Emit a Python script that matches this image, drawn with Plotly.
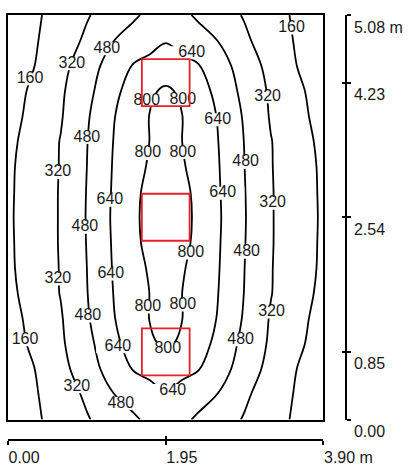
import plotly.graph_objects as go

# ---- data ----
room_w = 3.90
room_l = 5.08

# grid positions (m)
x_m = [0, 0.325, 0.65, 0.975, 1.3, 1.55, 1.75, 1.95, 2.15, 2.35, 2.6, 2.925, 3.25, 3.575, 3.9]
y_m = [0, 0.3175, 0.635, 0.9525, 1.27, 1.5875, 1.905, 2.2225, 2.54,
       2.8575, 3.175, 3.4925, 3.81, 4.1275, 4.445, 4.7625, 5.08]

# estimated illuminance (lux) at the grid points, rows from y=0 upward
lux = [
    [55, 135, 220, 308, 393, 459, 510, 560, 510, 459, 393, 308, 220, 135, 55],
    [62, 145, 240, 346, 476, 536, 583, 630, 583, 536, 476, 346, 240, 145, 62],
    [72, 158, 271, 405, 551, 649, 684, 720, 684, 649, 551, 405, 271, 158, 72],
    [85, 191, 297, 433, 601, 701, 780, 820, 780, 701, 601, 433, 297, 191, 85],
    [104, 205, 307, 462, 630, 730, 803, 835, 803, 730, 630, 462, 307, 205, 104],
    [123, 223, 325, 475, 640, 730, 801, 850, 801, 730, 640, 475, 325, 223, 123],
    [135, 229, 327, 480, 648, 745, 816, 870, 816, 745, 648, 480, 327, 229, 135],
    [138, 231, 330, 485, 654, 770, 834, 885, 834, 770, 654, 485, 330, 231, 138],
    [140, 233, 330, 488, 659, 776, 839, 890, 839, 776, 659, 488, 330, 233, 140],
    [138, 231, 330, 485, 654, 770, 834, 885, 834, 770, 654, 485, 330, 231, 138],
    [135, 229, 327, 480, 648, 745, 816, 870, 816, 745, 648, 480, 327, 229, 135],
    [123, 223, 325, 475, 640, 730, 801, 850, 801, 730, 640, 475, 325, 223, 123],
    [104, 205, 307, 462, 630, 730, 803, 835, 803, 730, 630, 462, 307, 205, 104],
    [85, 191, 297, 433, 601, 701, 780, 820, 780, 701, 601, 433, 297, 191, 85],
    [72, 158, 271, 405, 551, 649, 684, 720, 684, 649, 551, 405, 271, 158, 72],
    [62, 145, 240, 346, 476, 536, 583, 630, 583, 536, 476, 346, 240, 145, 62],
    [55, 135, 220, 308, 393, 459, 510, 560, 510, 459, 393, 308, 220, 135, 55],
]

levels = [160, 320, 480, 640, 800]

# contour label placements (m) and texts
label_x = [3.505, 1.222, 0.790, 0.272, 2.271, 1.716, 2.160, 3.209, 2.592, 0.975,
           1.728, 2.160, 2.937, 0.617, 1.259, 2.654, 3.271, 0.950, 2.259, 2.950,
           1.271, 0.617, 1.728, 2.160, 3.258, 0.987, 0.210, 1.358, 1.975, 2.876,
           0.852, 2.036, 1.395]
label_y = [4.917, 4.655, 4.467, 4.279, 4.605, 4.004, 4.017, 4.054, 3.766, 3.541,
           3.341, 3.353, 3.228, 3.103, 2.753, 2.840, 2.715, 2.415, 2.090, 2.102,
           1.827, 1.764, 1.414, 1.439, 1.351, 1.301, 1.001, 0.913, 0.888, 1.001,
           0.413, 0.363, 0.200]
label_text = ["160", "480", "320", "160", "640", "800", "800", "320", "640", "480",
              "800", "800", "480", "320", "640", "640", "320", "480", "800", "480",
              "640", "320", "800", "800", "320", "480", "160", "640", "800", "480",
              "320", "640", "480"]

# luminaires (centres, m) and size (m)
lum_x = [1.95, 1.95, 1.95]
lum_y = [4.23, 2.54, 0.85]
lum_size = 0.59

# axis ticks
x_ticks = [0.0, 1.95, 3.90]
x_tick_text = ["0.00", "1.95", "3.90 m"]
y_ticks = [0.0, 0.85, 2.54, 4.23, 5.08]
y_tick_text = ["0.00", "0.85", "2.54", "4.23", "5.08 m"]

FONT = "Liberation Sans, Arial, sans-serif"
TXT = "#1a1a1a"
FS = 16

fig = go.Figure()

fig.add_trace(go.Contour(
    x=x_m, y=y_m, z=lux,
    contours=dict(start=levels[0], end=levels[-1], size=levels[1] - levels[0],
                  coloring="none", showlabels=False),
    line=dict(color="black", width=1.8, smoothing=1.0),
    showscale=False, hoverinfo="skip",
))

fig.add_trace(go.Scatter(
    x=label_x, y=label_y, text=label_text, mode="markers+text",
    textposition="middle center",
    textfont=dict(family=FONT, size=FS, color=TXT),
    marker=dict(symbol="line-ew", size=31, color="white",
                line=dict(color="white", width=13)),
    hoverinfo="skip", showlegend=False, cliponaxis=False,
))

# dummy traces to register the extra axes
fig.add_trace(go.Scatter(x=[], y=[], xaxis="x2", yaxis="y", showlegend=False, hoverinfo="skip"))
fig.add_trace(go.Scatter(x=[], y=[], xaxis="x3", yaxis="y", showlegend=False, hoverinfo="skip"))
fig.add_trace(go.Scatter(x=[], y=[], xaxis="x", yaxis="y2", showlegend=False, hoverinfo="skip"))
fig.add_trace(go.Scatter(x=[], y=[], xaxis="x", yaxis="y3", showlegend=False, hoverinfo="skip"))

for cx, cy in zip(lum_x, lum_y):
    fig.add_shape(type="rect", xref="x", yref="y",
                  x0=cx - lum_size / 2, x1=cx + lum_size / 2,
                  y0=cy - lum_size / 2, y1=cy + lum_size / 2,
                  line=dict(color="#e8202a", width=1.8), layer="above")

x_dom = [0, 0.9334]
y_dom = [0.0482, 1]

common = dict(showgrid=False, zeroline=False, color="black", automargin=False)

fig.update_layout(
    width=410, height=466, autosize=False,
    margin=dict(l=8, r=64, t=15, b=26, pad=0, autoexpand=False),
    paper_bgcolor="white", plot_bgcolor="white",
    font=dict(family=FONT, size=FS, color=TXT),
    showlegend=False,
    xaxis=dict(domain=x_dom, range=[0, room_w], showline=True, mirror=True,
               linecolor="black", linewidth=1.6, ticks="", showticklabels=False, **common),
    yaxis=dict(domain=y_dom, range=[0, room_l], showline=True, mirror=True,
               linecolor="black", linewidth=1.6, ticks="", showticklabels=False, **common),
    xaxis2=dict(overlaying="x", anchor="free", position=0, range=[0, room_w],
                showline=True, linecolor="black", linewidth=1.5,
                ticks="outside", ticklen=4, tickwidth=1.5, tickcolor="black",
                tickvals=x_ticks, ticktext=x_tick_text,
                ticklabelposition="outside right", ticklabelstandoff=3,
                ticklabelshift=-1,
                tickfont=dict(family=FONT, size=FS, color=TXT), **common),
    xaxis3=dict(overlaying="x", anchor="free", position=0, range=[0, room_w],
                showline=False, ticks="inside", ticklen=4, tickwidth=1.5,
                tickcolor="black", tickvals=x_ticks, showticklabels=False, **common),
    yaxis2=dict(overlaying="y", anchor="free", position=1, side="right",
                range=[0, room_l], showline=True, linecolor="black", linewidth=1.5,
                ticks="outside", ticklen=4, tickwidth=1.5, tickcolor="black",
                tickvals=y_ticks, ticktext=y_tick_text,
                ticklabelposition="outside bottom", ticklabelstandoff=4,
                tickfont=dict(family=FONT, size=FS, color=TXT), **common),
    yaxis3=dict(overlaying="y", anchor="free", position=1, side="right",
                range=[0, room_l], showline=False, ticks="inside", ticklen=4,
                tickwidth=1.5, tickcolor="black", tickvals=y_ticks,
                showticklabels=False, **common),
)

fig.write_html("out.html", config={"displayModeBar": False},
               post_script="document.body.style.margin='0';document.body.style.overflow='hidden';")
